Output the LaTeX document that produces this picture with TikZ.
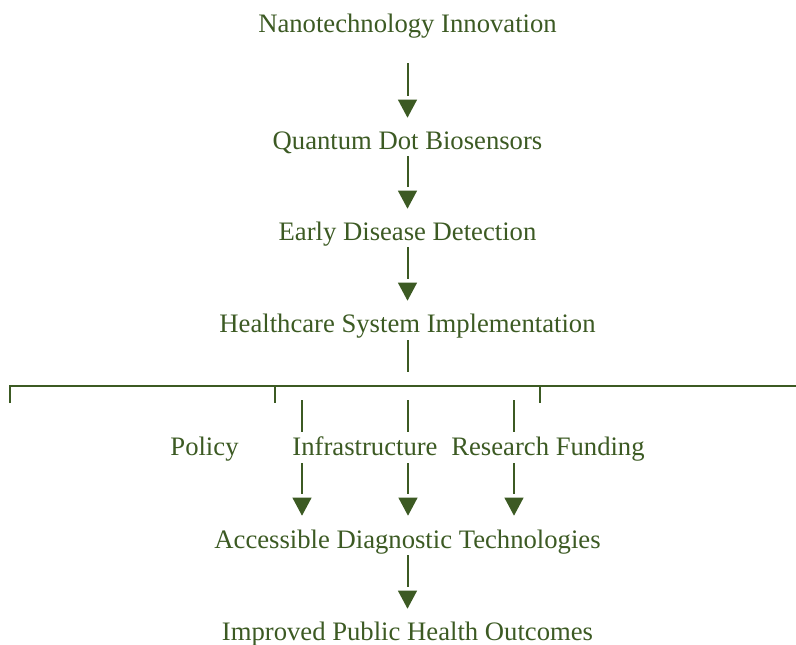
\documentclass[tikz,border=0pt]{standalone}
\usepackage{fontspec}
\setmainfont{Liberation Serif}
\usetikzlibrary{arrows.meta}
\definecolor{leaf}{RGB}{60,90,35}

\begin{document}
\begin{tikzpicture}[x=0.75pt,y=0.75pt,yscale=-1,xscale=1,
    txt/.style={anchor=base,inner sep=0pt,text height=13.5pt,text depth=4.5pt,text=leaf,font=\fontsize{20}{24}\selectfont},
    link/.style={draw=leaf,line width=1.5pt},
    % stem stops short of the head, head drawn on its own pass
    flow/.style={link,shorten <=0.75pt,shorten >=#1+16.5pt,
        postaction={draw,shorten >=#1,-{Triangle[width=14pt,length=13.5pt]},dash pattern=on 0pt off 2000pt}},
    flow/.default=9.75pt]
        \useasboundingbox (0,0) rectangle (796,644);
        % chain of steps
        \node[txt] (nano) at (407.5,32) {Nanotechnology Innovation};
        \node[txt] (qdot) at (407.5,149) {Quantum Dot Biosensors};
        \node[txt] (early) at (407.5,240) {Early Disease Detection};
        \node[txt] (health) at (407.5,332) {Healthcare System Implementation};
        \node[txt] (policy) at (204.5,455) {Policy};
        \node[txt] (infra) at (365,455) {Infrastructure};
        \node[txt] (funding) at (548,455) {Research Funding};
        \node[txt] (access) at (407.5,548) {Accessible Diagnostic Technologies};
        \node[txt] (outcome) at (407.5,640) {Improved Public Health Outcomes};
        \draw[flow,shorten <=18.75pt] (nano) -- (qdot);
        \draw[flow] (qdot) -- (early);
        \draw[flow] (early) -- (health);
        \draw[flow] (access) -- (outcome);
        % split bar
        \coordinate (bar) at (408,386);
        \draw[link,shorten <=1.5pt,shorten >=10.5pt] (health) -- (health |- bar);
        \draw[link] (10,403) -- (10,386) -- (796,386);
        \foreach \x in {275,540} \draw[link] (\x,386) -- (\x,403);
        \foreach \x in {302,408,514} {
            \coordinate (s\x) at (\x,386);
            \draw[link,shorten <=10.5pt,shorten >=3.75pt] (s\x) -- (s\x |- infra.north);
            \draw[flow=10.5pt,shorten <=1.5pt] (s\x |- infra.south) -- (s\x |- access.north);
        }
    \end{tikzpicture}
\end{document}
